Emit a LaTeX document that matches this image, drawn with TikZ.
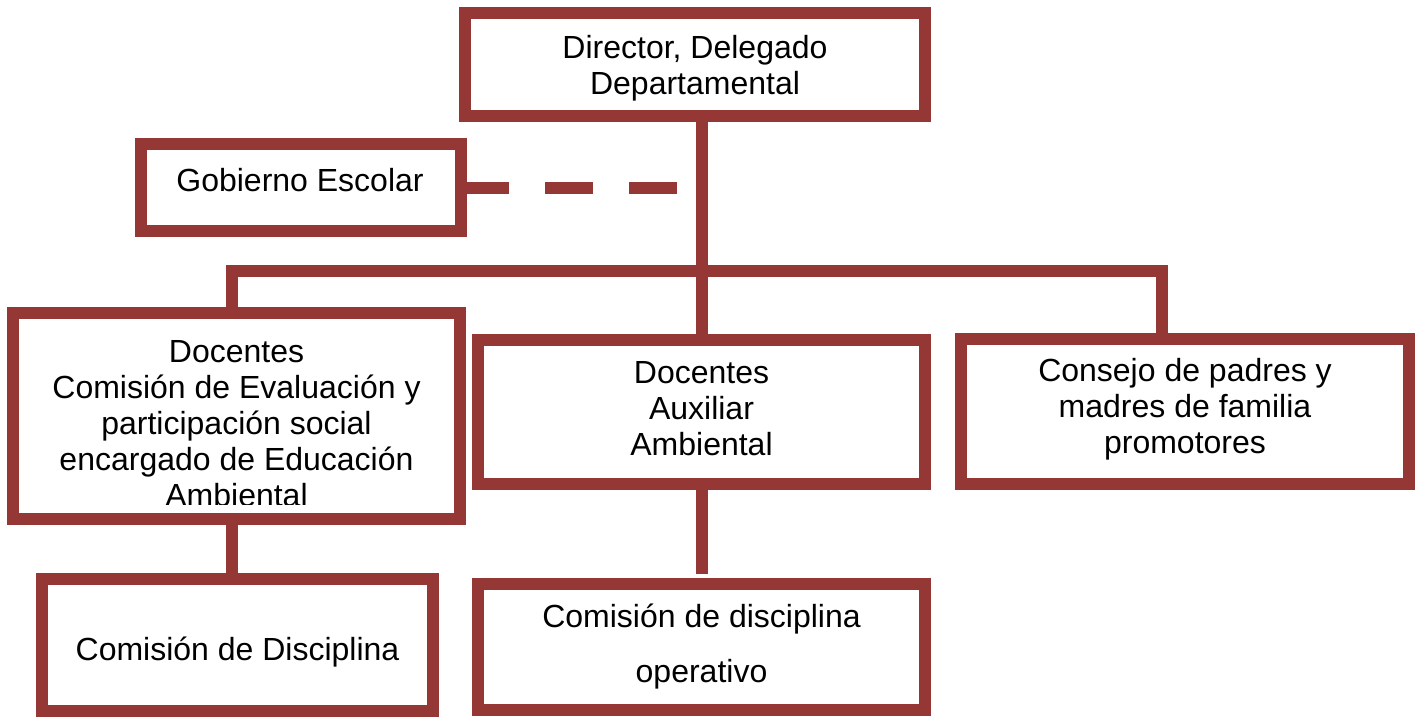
\documentclass[tikz,border=0pt]{standalone}
\usepackage{fontspec}
\setmainfont{Liberation Sans}
\definecolor{brick}{RGB}{149,55,53}

\def \lineWidth {6pt}

\tikzset{
  box/.style={draw=brick, line width=\lineWidth, inner sep=0pt, outer sep=0pt},
  txt/.style={align=center, inner sep=0pt, font=\fontsize{16}{18}\selectfont},
  link/.style={draw=brick, line width=\lineWidth}
}

\begin{document}
\begin{tikzpicture}[x=0.5pt, y=-0.5pt]
   \useasboundingbox (0,0) rectangle (1416,717);
   % boxes
   \node[box, minimum width=230pt, minimum height=51.5pt] (dir) at (695,64.5) {};
   \node[box, minimum width=160pt, minimum height=43.5pt] (gob) at (301,187.5) {};
   \node[box, minimum width=223.5pt, minimum height=103pt] (doc) at (236.5,416) {};
   \node[box, minimum width=223.5pt, minimum height=72pt] (aux) at (701.5,412) {};
   \node[box, minimum width=224pt, minimum height=72.5pt] (cons) at (1185,411.5) {};
   \node[box, minimum width=195.5pt, minimum height=66pt] (disc) at (237.5,645) {};
   \node[box, minimum width=223.5pt, minimum height=63pt] (oper) at (701.5,647) {};
   % texts
   \node[txt] (dirT) at (695,68.7) {Director, Delegado\\Departamental};
   \node[txt] (gobT) at (300,180.5) {Gobierno Escolar};
   \begin{scope}
      \clip (13,313) rectangle (460,504);
      \node[txt] (docT) at (236.5,423.5) {Docentes\\Comisión de Evaluación y\\participación social\\encargado de Educación\\Ambiental};
   \end{scope}
   \node[txt] (auxT) at (701.5,408.5) {Docentes\\Auxiliar\\Ambiental};
   \node[txt] (consT) at (1185,409.7) {Consejo de padres y\\madres de familia\\promotores};
   \node[txt] (discT) at (237.5,651.6) {Comisión de Disciplina};
   \node[txt, font=\fontsize{16}{27.5}\selectfont] (operT) at (701.5,647) {Comisión de disciplina\\operativo};
   % connectors
   \coordinate (busL) at (232,271);
   \coordinate (busR) at (1162,271);
   \coordinate (gobEnd) at (677,187.5);
   \draw[link] (aux.north) -- (aux.north |- dir.south);
   \draw[link] (busL |- doc.north) -- (busL) -- (busR) -- (busR |- cons.north);
   \draw[link] (busL |- doc.south) -- (busL |- disc.north);
   \draw[link, shorten >=5pt] (aux.south) -- (oper.north);
   \draw[link, dash pattern=on 24pt off 18pt] (gob.east) -- (gobEnd);
\end{tikzpicture}
\end{document}
